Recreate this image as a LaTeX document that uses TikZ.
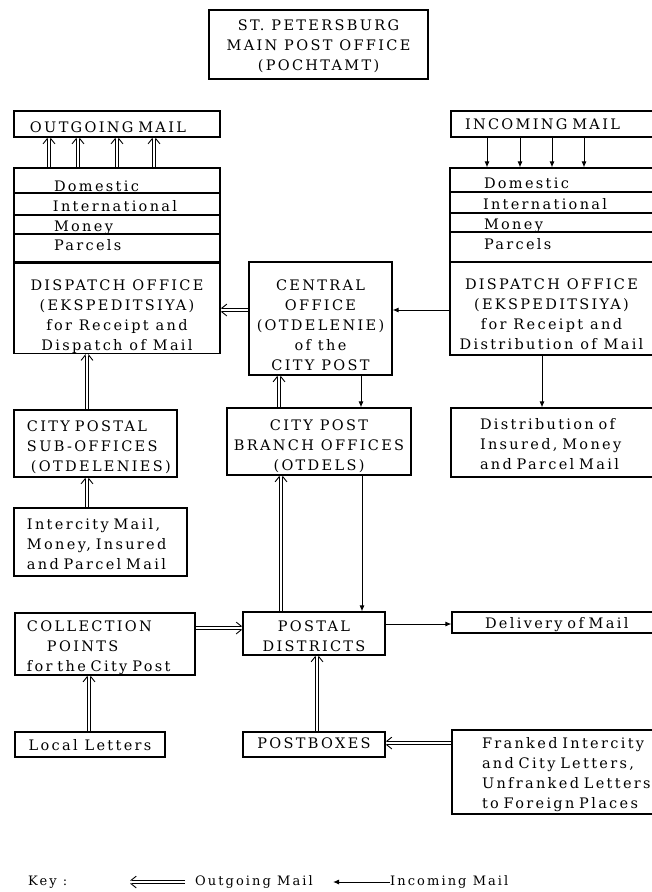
\documentclass[tikz,border=0pt]{standalone}
\usepackage{fontspec}
\setmainfont{DejaVu Serif}[LetterSpace=16]
\usetikzlibrary{arrows.meta}
\hyphenpenalty=10000
% left-indented text block
\newcommand\ind[2]{\leftskip=#1\relax #2\par}
% strut that pushes a first line down
\newcommand\dn[1]{\rule{0pt}{#1}}
% outgoing-mail double arrow from #1 to #2: two parallel lines, each with an outward barb
\newcommand\outup[2]{%
  \draw[outline,-{Straight Barb[harpoon,length=5pt,width=8pt]}] ([xshift=-1.9pt]#1) -- ([xshift=-1.9pt]#2);
  \draw[outline,-{Straight Barb[harpoon,swap,length=5pt,width=8pt]}] ([xshift=1.9pt]#1) -- ([xshift=1.9pt]#2);}
\newcommand\outleft[2]{%
  \draw[outline,-{Straight Barb[harpoon,swap,length=5pt,width=8pt]}] ([yshift=1.9pt]#1) -- ([yshift=1.9pt]#2);
  \draw[outline,-{Straight Barb[harpoon,length=5pt,width=8pt]}] ([yshift=-1.9pt]#1) -- ([yshift=-1.9pt]#2);}
\newcommand\outright[2]{%
  \draw[outline,-{Straight Barb[harpoon,length=5pt,width=8pt]}] ([yshift=1.9pt]#1) -- ([yshift=1.9pt]#2);
  \draw[outline,-{Straight Barb[harpoon,swap,length=5pt,width=8pt]}] ([yshift=-1.9pt]#1) -- ([yshift=-1.9pt]#2);}
\begin{document}
\begin{tikzpicture}[x=1pt,y=-1pt,
  txt/.style={font=\fontsize{14.5}{20}\selectfont},
  box/.style={draw, line width=1.1pt, inner sep=0pt, align=center, txt},
  lbox/.style={box, align=left},
  oneline/.style={text depth=0pt, text height=#1},
  outline/.style={line width=0.9pt},
  inmail/.style={line width=1pt, -{Latex[length=6pt,width=5pt]}},
  keytext/.style={inner sep=0pt, anchor=west, font=\fontsize{13}{20}\selectfont}]
\useasboundingbox (0,0) rectangle (652,892);
% title
\node[box, minimum width=219pt, minimum height=69pt] (title) at (318.5,44.5) {\dn{14pt}ST. PETERSBURG\\MAIN POST OFFICE\\(POCHTAMT)};
% outgoing / incoming
\node[lbox, oneline=16.6pt, minimum width=206pt, minimum height=26pt, text width=206pt] (outgoing) at (117,124) {\ind{16pt}{OUTGOING MAIL}};
\node[lbox, oneline=10.6pt, minimum width=202pt, minimum height=26pt, text width=202pt] (incoming) at (552,124) {\ind{14pt}{INCOMING MAIL}};
% left dispatch office
\node[lbox, oneline=21.6pt, minimum width=206pt, minimum height=25pt, text width=206pt] (ldom) at (117,180.5) {\ind{40pt}{Domestic}};
\node[lbox, oneline=14.6pt, minimum width=206pt, minimum height=22pt, text width=206pt] (lint) at (117,204) {\ind{39pt}{International}};
\node[lbox, oneline=13.6pt, minimum width=206pt, minimum height=19pt, text width=206pt] (lmon) at (117,224.5) {\ind{40pt}{Money}};
\node[lbox, oneline=3.6pt, minimum width=206pt, minimum height=29pt, text width=206pt] (lpar) at (117,248.5) {\ind{40pt}{Parcels}};
\node[box, minimum width=206pt, minimum height=89pt] (lmain) at (117,307.5) {\dn{29pt}DISPATCH OFFICE\\(EKSPEDITSIYA)\\for Receipt and\\Dispatch of Mail};
% right dispatch office
\node[lbox, oneline=16.6pt, minimum width=203pt, minimum height=24pt, text width=203pt] (rdom) at (551.5,180) {\ind{34pt}{Domestic}};
\node[lbox, oneline=13.6pt, minimum width=203pt, minimum height=21pt, text width=203pt] (rint) at (551.5,202.5) {\ind{33pt}{International}};
\node[lbox, oneline=13.6pt, minimum width=203pt, minimum height=19pt, text width=203pt] (rmon) at (551.5,222.5) {\ind{34pt}{Money}};
\node[lbox, oneline=4.6pt, minimum width=203pt, minimum height=30pt, text width=203pt] (rpar) at (551.5,247) {\ind{34pt}{Parcels}};
\node[box, minimum width=203pt, minimum height=93pt] (rmain) at (551.5,308.5) {\dn{23pt}DISPATCH OFFICE\\(EKSPEDITSIYA)\\for Receipt and\\Distribution of Mail};
% central office
\node[box, minimum width=143pt, minimum height=113pt] (central) at (320.5,318.5) {\dn{25pt}CENTRAL\\OFFICE\\(OTDELENIE)\\of the\\CITY POST};
% middle row
\node[lbox, minimum width=163pt, minimum height=67pt, text width=163pt] (suboff) at (95.5,443.5) {\ind{13pt}{\dn{19pt}CITY POSTAL\\SUB-OFFICES\\\hspace*{4pt}(OTDELENIES)}};
\node[box, minimum width=184pt, minimum height=67pt] (branch) at (319,441.5) {\dn{21pt}CITY POST\\BRANCH OFFICES\\(OTDELS)};
\node[lbox, minimum width=202pt, minimum height=69pt, text width=202pt] (distrib) at (552,442.5) {\ind{29pt}{\dn{15pt}Distribution of\\Insured, Money\\and Parcel Mail}};
\node[lbox, minimum width=173pt, minimum height=68pt, text width=173pt] (intercity) at (100.5,542) {\ind{13pt}{\dn{15pt}Intercity Mail,\\Money, Insured\\and Parcel Mail}};
% lower rows
\node[lbox, minimum width=180pt, minimum height=62pt, text width=180pt] (collection) at (105,644) {\ind{12pt}{\dn{18pt}COLLECTION\\\hspace*{20pt}POINTS\\for the City Post}};
\node[box, minimum width=142pt, minimum height=43pt] (postal) at (314,633.5) {\dn{16pt}POSTAL\\DISTRICTS};
\node[lbox, oneline=11.6pt, minimum width=201pt, minimum height=21pt, text width=201pt] (delivery) at (552.5,622.5) {\ind{33pt}{Delivery of Mail}};
\node[box, oneline=11.6pt, minimum width=150pt, minimum height=25pt] (local) at (90,744.5) {Local Letters};
\node[box, oneline=7.6pt, minimum width=142pt, minimum height=25pt] (postboxes) at (314,744.5) {POSTBOXES};
\node[lbox, minimum width=201pt, minimum height=84pt, text width=201pt] (franked) at (552.5,772) {\ind{30pt}{\dn{17pt}Franked Intercity\\and City Letters,\\Unfranked Letters\\to Foreign Places}};
% outgoing mail arrows (double)
\foreach \s [count=\i] in {-68,-39,0,37} {
  \coordinate (oa\i) at ([xshift=\s pt]ldom.north);
  \coordinate (ob\i) at (oa\i |- outgoing.south);
  \outup{oa\i}{ob\i}
}
\coordinate (c1) at ([yshift=8.5pt]central.west);
\coordinate (c2) at (c1 -| lmain.east);
\outleft{c1}{c2}
\coordinate (s1) at ([xshift=-8.5pt]suboff.north);
\coordinate (s2) at (s1 |- lmain.south);
\outup{s1}{s2}
\coordinate (i1) at ([xshift=-13.5pt]intercity.north);
\coordinate (i2) at (i1 |- suboff.south);
\outup{i1}{i2}
\coordinate (b1) at ([xshift=-40pt]branch.north);
\coordinate (b2) at (b1 |- central.south);
\outup{b1}{b2}
\coordinate (p1) at ([xshift=-33pt]postal.north);
\coordinate (p2) at (p1 |- branch.south);
\outup{p1}{p2}
\coordinate (k1) at ([yshift=16pt]collection.east);
\coordinate (k2) at (k1 -| postal.west);
\outright{k1}{k2}
\coordinate (x1) at ([xshift=3pt]postboxes.north);
\coordinate (x2) at (x1 |- postal.south);
\outup{x1}{x2}
\coordinate (l1) at ([xshift=-1pt]local.north);
\coordinate (l2) at (l1 |- collection.south);
\outup{l1}{l2}
\coordinate (f1) at ([yshift=29pt]franked.west);
\coordinate (f2) at (f1 -| postboxes.east);
\outleft{f1}{f2}
% incoming mail arrows (single)
\foreach \s in {-65,-32,0,32}
  \draw[inmail] ([xshift=\s pt]incoming.south) -- ([xshift=\s pt]incoming.south |- rdom.north);
\draw[inmail] ([yshift=-1.5pt]rmain.west) -- ([yshift=-1.5pt]rmain.west -| central.east);
\draw[inmail] ([xshift=-9.5pt]rmain.south) -- ([xshift=-9.5pt]rmain.south |- distrib.north);
\draw[inmail] ([xshift=40.5pt]central.south) -- ([xshift=40.5pt]central.south |- branch.north);
\draw[inmail] ([xshift=43pt]branch.south) -- ([xshift=43pt]branch.south |- postal.north);
\draw[inmail] ([yshift=9.5pt]postal.east) -- ([yshift=9.5pt]postal.east -| delivery.west);
% key
\node[keytext] (keylabel) at (28,882) {Key :};
\node[keytext] (keyout) at (195,882) {Outgoing Mail};
\node[keytext] (keyin) at (390,882) {Incoming Mail};
\coordinate (ko1) at ([xshift=-10pt]keyout.west);
\coordinate (ko2) at ([xshift=-65pt]keyout.west);
\outleft{ko1}{ko2}
\draw[inmail] (keyin.west) -- ++(-57,0) coordinate (keyinend);
\end{tikzpicture}
\end{document}
